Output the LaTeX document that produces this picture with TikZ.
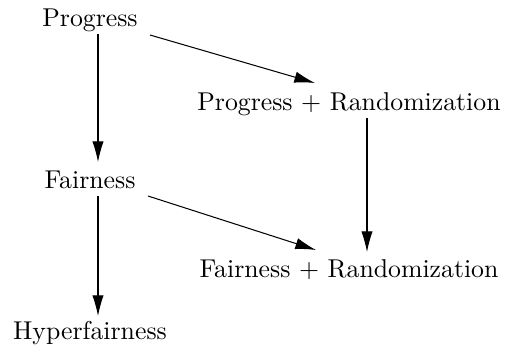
\documentclass[tikz,border=0pt]{standalone}
\usepackage{tikz}
\usetikzlibrary{arrows.meta,calc}
\tikzset{
    prop/.style = {inner sep=0pt, anchor=center},
    imply/.style = {-{Latex[length=8pt,width=4.4pt]}, thin},
}

\begin{document}
\begin{tikzpicture}[x=0.388pt, y=-0.388pt]
\useasboundingbox (0,0) rectangle (517,352);
\node[prop] (prog) at (90,20) {Progress};
\node[prop] (progrand) at (349,104) {Progress + Randomization};
\node[prop] (fair) at (90,180) {Fairness};
\node[prop] (fairrand) at (349,270) {Fairness + Randomization};
\node[prop] (hyper) at (90,333) {Hyperfairness};
\draw[imply] ($(prog)+(8,14)$) -- ($(fair)+(8,-18)$);
\draw[imply] ($(prog)+(60,15)$) -- ($(progrand)+(-34,-21)$);
\draw[imply] ($(progrand)+(18,14)$) -- ($(fairrand)+(18,-18)$);
\draw[imply] ($(fair)+(58,16)$) -- ($(fairrand)+(-33,-20)$);
\draw[imply] ($(fair)+(8,16)$) -- ($(hyper)+(8,-17)$);
\end{tikzpicture}
\end{document}
